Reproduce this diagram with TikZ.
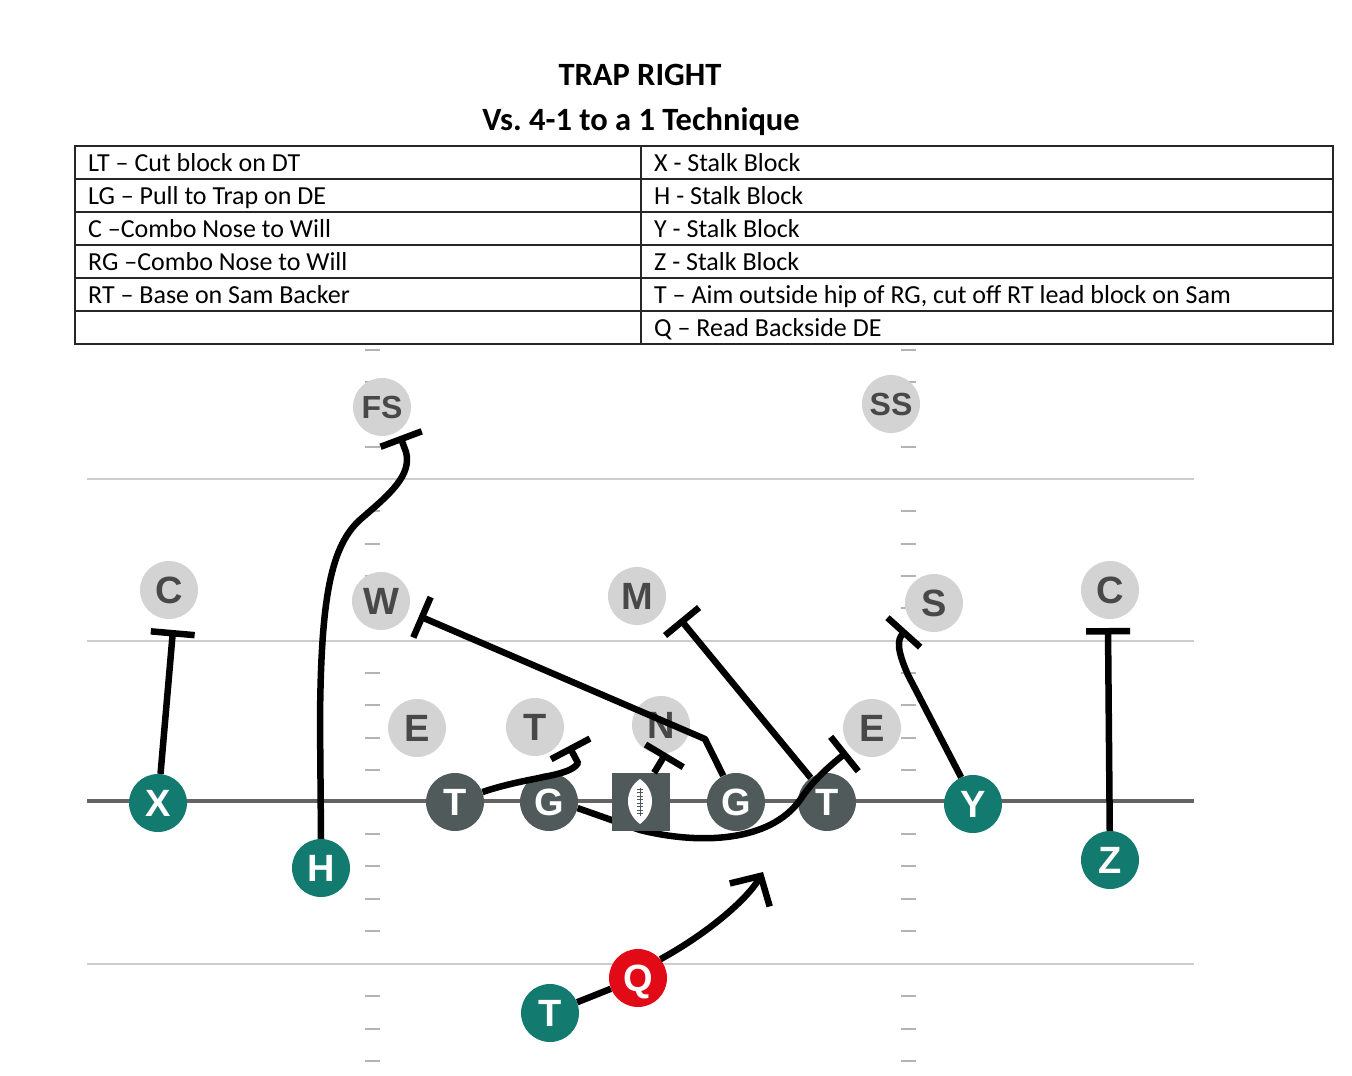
\documentclass[tikz,border=0pt]{standalone}
\usepackage{fontspec}
\setmainfont{Carlito}
\newfontfamily\plfont{Liberation Sans}
\usetikzlibrary{arrows.meta}
\definecolor{teal1}{HTML}{127A6E}
\definecolor{olgray}{HTML}{505A5A}
\definecolor{defgray}{HTML}{D3D3D3}
\definecolor{deftext}{HTML}{484848}
\definecolor{qred}{HTML}{E20A16}
\definecolor{losgray}{HTML}{646464}
\definecolor{ydgray}{HTML}{CDCDCD}
\definecolor{hashgray}{HTML}{B4B4B4}
\frenchspacing
\begin{document}
\begin{tikzpicture}[x=1pt,y=-1pt,
  pl/.style={circle, inner sep=0pt, minimum size=58pt, font=\plfont\bfseries\fontsize{38}{38}\selectfont, text height=27pt, text depth=0pt},
  off/.style={pl, fill=teal1, text=white},
  ol/.style={pl, fill=olgray, text=white},
  def/.style={pl, fill=defgray, text=deftext},
  twoletter/.style={font=\plfont\bfseries\fontsize{32}{32}\selectfont, text height=23pt},
  tabtext/.style={anchor=base west, inner sep=0pt, font=\fontsize{26}{26}\selectfont},
  titletext/.style={anchor=base, inner sep=0pt, font=\bfseries\fontsize{32.5}{32.5}\selectfont},
  tabline/.style={line width=1.3pt, black!85},
  yardline/.style={line width=2pt, ydgray},
  losline/.style={line width=4pt, losgray},
  hashmark/.style={line width=2pt, hashgray},
  route/.style={line width=6.5pt, black, line join=round},
  tbar/.style={-{Bar[width=44pt]}},
  runarrow/.style={-{Straight Barb[length=22pt,width=46pt]}}
]
\useasboundingbox (0,0) rectangle (1352,1076);

% titles
\node[titletext] (title1) at (640,85) {TRAP RIGHT};
\node[titletext] (title2) at (641,130) {Vs. 4-1 to a 1 Technique};

% table
\draw[tabline] (75,146) rectangle (1333,344);
\foreach \yy in {179,212,245,278,311} {\draw[tabline] (75,\yy) -- (1333,\yy);}
\draw[tabline] (641,146) -- (641,344);
\node[tabtext] (l1) at (88,171.5) {LT -- Cut block on DT};
\node[tabtext] (l2) at (88,204.5) {LG -- Pull to Trap on DE};
\node[tabtext] (l3) at (88,237.5) {C --Combo Nose to Will};
\node[tabtext] (l4) at (88,270.5) {RG --Combo Nose to Will};
\node[tabtext] (l5) at (88,303.5) {RT -- Base on Sam Backer};
\node[tabtext] (r1) at (654,171.5) {X - Stalk Block};
\node[tabtext] (r2) at (654,204.5) {H - Stalk Block};
\node[tabtext] (r3) at (654,237.5) {Y - Stalk Block};
\node[tabtext] (r4) at (654,270.5) {Z - Stalk Block};
\node[tabtext] (r5) at (654,303.5) {T -- Aim outside hip of RG, cut off RT lead block on Sam};
\node[tabtext] (r6) at (654,336.5) {Q -- Read Backside DE};

% field
\foreach \yy in {479,641,964} {\draw[yardline] (87,\yy) -- (1194,\yy);}
\foreach \yy in {350,382,414,447,511,544,576,608,673,705,738,770,834,866,899,931,996,1029,1061}
  {\draw[hashmark] (365,\yy) -- (380,\yy); \draw[hashmark] (901,\yy) -- (916,\yy);}
\draw[losline] (87,801) -- (1194,801);

% defense
\node[def,twoletter] (FS) at (382,407) {FS};
\node[def,twoletter] (SS) at (891,404) {SS};
\node[def] (CL) at (169,590) {C};
\node[def] (W) at (381,601) {W};
\node[def] (M) at (637,596) {M};
\node[def] (S) at (934,603) {S};
\node[def] (CR) at (1110,590) {C};
\node[def] (EL) at (417,728) {E};
\node[def] (DT) at (535,727) {T};
\node[def] (N) at (661,725) {N};
\node[def] (ER) at (872,728) {E};

% offense
\node[off] (X) at (158,803) {X};
\node[off] (H) at (321,868) {H};
\node[off] (Y) at (973,804) {Y};
\node[off] (Z) at (1110,860) {Z};
\node[off] (TB) at (550,1013) {T};
\node[pl, fill=qred, text=white] (Q) at (638,978) {Q};
\node[ol] (LT) at (455,802) {T};
\node[ol] (LG) at (549,802) {G};
\node[ol] (RG) at (736,802) {G};
\node[ol] (RT) at (827,802) {T};

% block points
\coordinate (xb) at (173,630);
\coordinate (fsb) at (400,436);
\coordinate (ltb) at (569,746);
\coordinate (cb) at (666,753);
\coordinate (wb) at (419,616);
\coordinate (mb) at (680,619);
\coordinate (eb) at (847,752);
\coordinate (yb) at (906,630);
\coordinate (zb) at (1108,628);
\coordinate (qa) at (763,872);

% LG pull (passes under the ball)
\draw[route,tbar] (LG.-12) -- (640,830) .. controls (700,845) and (770,842) .. (800,800)
   .. controls (810,785) and (822,772) .. (eb);

% center with ball
\node[rectangle, fill=olgray, minimum size=58pt, inner sep=0pt] (CTR) at (640.5,802) {};
\fill[white] (640,779) .. controls (656,790) and (656,812) .. (640,824)
   .. controls (624,812) and (624,790) .. cycle;
\draw[olgray, line width=1pt] (640,788) -- (640,816);
\foreach \yy in {789,792.5,796,799.5,803,806.5,810,813.5} {\draw[olgray, line width=0.9pt] (637,\yy) -- (643,\yy);}

% routes
\draw[route,tbar] (X) -- (xb);
\draw[route,tbar] (H.north) -- (320,720) .. controls (321,600) and (330,545) .. (362,518)
   .. controls (390,494) and (412,475) .. (406,452) -- (fsb);
\draw[route,tbar] (LT.20) .. controls (530,776) and (570,777) .. (578,763) -- (ltb);
\draw[route,tbar] (CTR.65) -- (cb);
\draw[route,tbar] (RG.116) -- (705,739) -- (wb);
\draw[route,tbar] (RT.124) -- (mb);
\draw[route,tbar] (Y.114) -- (908,675) .. controls (897,650) and (897,640) .. (yb);
\draw[route,tbar] (Z) -- (zb);
\draw[route] (TB) -- (Q);
\draw[route,runarrow] (Q.40) .. controls (710,932) and (748,898) .. (qa);
\end{tikzpicture}
\end{document}
